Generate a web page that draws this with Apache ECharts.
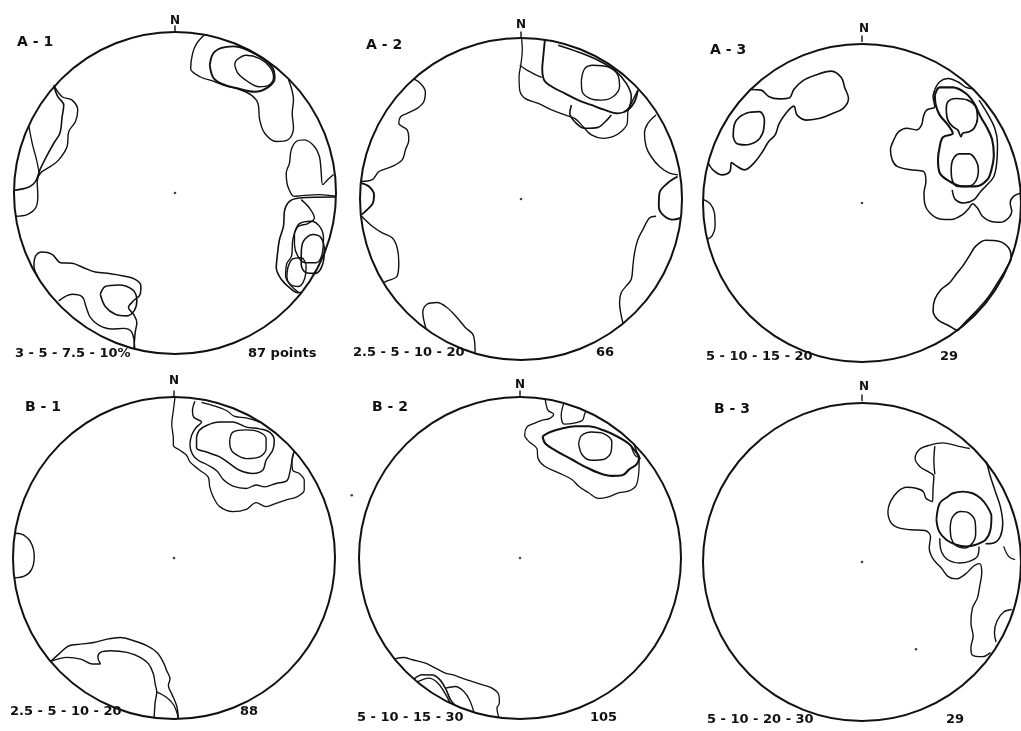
<!DOCTYPE html>
<html><head><meta charset="utf-8">
<script src="https://cdn.jsdelivr.net/npm/echarts@6/dist/echarts.min.js"></script>
<style>html,body{margin:0;padding:0;background:#fff}#c{width:1021px;height:731px}</style>
</head><body><div id="c"></div>
<script>
// Stereonet coordinates: primitive circle radius = 100, x to east, y to north.
const PRIMITIVE_R = 100;

// ---------- A-1 ----------
const A1_NE_c1 = [[18,98],[13.4,92.8],[10.9,86.6],[9.7,77.3],[15.5,72.2],[23.7,69.5],[32,66.4],[40.2,64.3],[47.4,60.8],[51.5,55.7],[52.6,45.4],[55.7,37.1],[62.9,32],[70.1,33],[73.6,40.2],[72.8,49.5],[73.6,57.7],[70.5,70.5]];
const A1_NE_c2 = [[21.6,79.4],[23.7,86.6],[28.9,90.1],[36.1,91.1],[44.3,89.1],[54.6,83.5],[60.8,77.3],[61.9,71.1],[57.7,65.6],[49.5,62.9],[39.2,64.9],[28.9,68],[23.7,71.8],[21.6,79.4]];
const A1_NE_c3 = [[37.1,79.4],[38.1,82.5],[44.3,85.6],[52.6,83.5],[58.8,78.4],[61.2,72.2],[58.4,67],[52.2,66],[45.4,69.1],[39.2,74.2],[37.1,79.4]];
const A1_W_c1 = [[-75.3,67],[-70.1,59.8],[-63.9,57.7],[-60.4,51.5],[-61.9,44.3],[-66,38.1],[-67,28.9],[-72.2,20.6],[-77.3,16.5],[-83.5,12.4],[-85.6,7.2],[-85.2,-2.1],[-86.6,-9.3],[-91.8,-13.4],[-99,-14.4]];
const A1_W_c2 = [[-75.3,66.4],[-72.8,59.8],[-69.1,54.6],[-70.1,47.4],[-71.5,37.1],[-75.3,30.9],[-79.8,22.7],[-83.9,14.4],[-86.6,7.2],[-90.7,3.7],[-100,1.6]];
const A1_W_c3 = [[-90.8,41.8],[-88.7,30.9],[-86,20.6],[-84.3,12.4]];
const A1_E_c1 = [[98.5,11.5],[94.8,8.2],[91.8,5.2],[90.7,14.4],[89.7,22.7],[86.6,28.9],[80.4,33],[75.3,32],[72.2,26.8],[71.1,18.6],[69.1,12.4],[70.1,4.1],[74.2,-2.1],[78.4,-1.6],[89.7,-1],[100,-2]];
const A1_E_c2 = [[100,-2.5],[77.3,-3.1],[71.1,-5.2],[68,-11.3],[67.4,-20.6],[64.9,-28.9],[63.5,-39.2],[62.9,-46.4],[66,-53.6],[71.1,-58.8],[76.3,-61.9],[78.5,-61.8]];
const A1_E_c3 = [[78.4,-4.1],[83.5,-9.3],[86.6,-15.5],[82.5,-19],[76.3,-21],[73.2,-28.9],[72.4,-39.2],[69.5,-43.7],[68.7,-51.5],[72.2,-57.7],[76.5,-61.5]];
const A1_E_c4 = [[74.2,-24.7],[77.3,-19],[84.5,-17.5],[89.7,-20.6],[92.2,-27.8],[91.3,-38.1],[87.6,-43.3],[81,-43.3],[76.3,-39.2],[74.2,-32],[74.2,-24.7]];
const A1_E_c5 = [[70.1,-46.4],[72.8,-41.2],[78.4,-40.2],[81.4,-45.4],[80.4,-53.6],[76.7,-58.1],[71.5,-56.7],[69.5,-51.5],[70.1,-46.4]];
const A1_E_c6 = [[78.4,-38.1],[79.8,-29.9],[85.6,-25.8],[90.7,-27.8],[92.8,-36.1],[91.3,-45.4],[87.2,-49.9],[81.4,-49.5],[78.4,-44.3],[78.4,-38.1]];
const A1_SW_c1 = [[-85.2,-52.5],[-87.6,-45.4],[-86.6,-39.2],[-82.5,-36.7],[-76.3,-38.1],[-71.1,-43.3],[-63.9,-43.7],[-56.7,-46.4],[-49.5,-49.1],[-40.2,-50.1],[-32,-51.5],[-24.7,-53.6],[-21.2,-57.7],[-21.6,-62.9],[-25.8,-67],[-28.9,-71.1],[-25.8,-75.3],[-23.7,-80.4],[-24.7,-86.6],[-25.5,-96.5]];
const A1_SW_c2 = [[-72.2,-67],[-63.9,-62.9],[-57.7,-64.5],[-55.1,-71.1],[-52.6,-77.3],[-47.4,-82.1],[-39.2,-84.5],[-32,-84.1],[-26.8,-86.6],[-25,-96.8]];
const A1_SW_c3 = [[-46.4,-62.9],[-43.3,-58.1],[-35.1,-57.1],[-26.2,-60.2],[-23.7,-67],[-25.4,-73.2],[-29.9,-76.3],[-37.1,-75.3],[-43.3,-70.5],[-46.4,-62.9]];

// ---------- A-2 ----------
const A2_NE_c1 = [[0.4,99.6],[0.8,92.4],[0,84.1],[-1.2,75.9],[-0.8,67.6],[2.5,62.5],[10.7,59.4],[19,55.3],[27.2,52.2],[33.4,50.1],[38.6,44.9],[43.7,39.8],[50.9,37.7],[57.1,38.8],[62.3,41.9],[66,47],[66.4,54.2],[68.5,59.4],[72.6,67.6]];
const A2_NE_c2 = [[14.8,98.5],[13.8,88.2],[13.2,81],[14.4,73.8],[20,69.3],[27.2,65.6],[35.5,61.4],[43.7,58.4],[52,55.3],[60.2,53.2],[66.4,55.3],[70.5,60.4],[72.6,67.6]];
const A2_NE_c3 = [[-0.8,83.1],[4.5,79.6],[12.8,75.5]];
const A2_NE_c4 = [[31.3,58.4],[30.3,53.2],[33.4,48],[39.6,43.9],[47.8,44.5],[53,48.7],[56.1,52.2]];
const A2_NE_c5 = [[23.1,95.5],[35.5,91.3],[47.8,86.2],[58.1,80],[65.4,71.8],[68.5,63.5],[67.4,57.3],[64.3,54.2]];
const A2_NE_c6 = [[37.5,73.8],[39.6,81],[44.7,83.1],[54,82.1],[60.2,76.9],[61.2,69.7],[57.1,63.5],[49.9,61.4],[42.7,62.5],[37.9,67.2],[37.5,73.8]];
const A2_W_c1 = [[-66.6,74.6],[-62.5,71.8],[-59.4,66.6],[-60.4,60.4],[-64.5,56.3],[-70.7,53.2],[-74.8,51.1],[-75.9,47],[-70.7,42.9],[-69.7,36.7],[-71.8,30.5],[-73.8,24.3],[-80,20.2],[-88.2,17.1],[-92.4,12],[-99.4,10.9]];
const A2_W_c2 = [[-99.2,9.9],[-94.4,7.8],[-91.3,2.7],[-92,-2.5],[-95.5,-6.6],[-99,-9.7]];
const A2_W_c3 = [[-99,-10.7],[-92.4,-16.9],[-86.2,-21],[-80,-24.1],[-76.9,-30.3],[-75.9,-39.6],[-76.9,-47.8],[-83.1,-50.9],[-85.5,-52]];
const A2_S_c1 = [[-59,-80.5],[-61,-70.5],[-58.4,-65.4],[-52.2,-64.3],[-46,-67.4],[-39.8,-73.6],[-34.6,-79.8],[-29.5,-84.9],[-28.5,-95.5]];
const A2_E_c1 = [[83.9,52.2],[78.8,47],[76.7,40.8],[77.7,32.6],[80.8,26.4],[86,20.2],[92.2,16.1],[97.5,15]];
const A2_E_c2 = [[97.3,14],[91.1,9.9],[86,3.7],[85.6,-4.5],[88,-9.7],[94.2,-12.8],[99.2,-11.8]];
const A2_E_c3 = [[83.9,-10.7],[79.8,-11.8],[75.7,-19],[72.6,-25.2],[70.5,-33.4],[69.5,-41.6],[68.5,-49.9],[65.4,-54],[62.3,-58.1],[61.2,-64.3],[63.3,-77]];

// ---------- A-3 ----------
const A3_NW_c1 = [[-70.3,70.5],[-63.5,70.1],[-58.4,66],[-52.2,64.7],[-45.6,65.4],[-42.9,70.5],[-37.3,75.9],[-29.5,79.4],[-19.2,81.9],[-13,77.9],[-10.9,71.8],[-8.5,64.9],[-11.8,58.8],[-19.2,55.3],[-26.4,52.6],[-34.6,51.5],[-40.8,54.6],[-42.9,60.2],[-47.6,56.1],[-52.2,49.1],[-54.6,42.3],[-58.8,38.1],[-62.5,32],[-67.6,25.2],[-73.8,20.6],[-80,23.7],[-82.1,25.2],[-83.1,19.6],[-88.2,17.5],[-93.8,20.6],[-96.8,25]];
const A3_NW_c2 = [[-81,41.2],[-80,49.5],[-72.8,55.7],[-64.5,56.7],[-61.4,51.5],[-62.5,43.3],[-66.6,38.1],[-73.8,36.1],[-79,37.1],[-81,41.2]];
const A3_W_c1 = [[-99.6,2.1],[-95.5,-0.4],[-92.8,-6.2],[-92.4,-14.4],[-94.4,-20.6],[-97.5,-22.5]];
const A3_NE_c1a = [[45.8,70.5],[48.9,75.3],[54,77.3],[60.2,75.3],[65.4,71.8],[70,71]];
const A3_NE_c1 = [[45.8,70.5],[44.7,66],[45.8,59.8],[40.6,57.7],[38.6,53.6],[37.5,48.5],[34.4,45.4],[28.2,46.4],[23.1,44.3],[20,39.2],[17.9,33],[19,26.8],[22.1,22.7],[30.3,20.6],[38.6,19.6],[40.2,13.4],[39,6.2],[39.6,-1],[42.7,-6.2],[48.9,-9.9],[56.1,-10.3],[63.3,-7.2],[67.4,-3.1],[69.5,-0.4],[72.6,-3.1],[75.7,-8.2],[80.8,-11.3],[87,-12],[92.2,-9.3],[94.2,-5.2],[93.2,0],[95.3,4.1],[99.8,6]];
const A3_NE_c2 = [[45.8,67],[48.9,71.8],[57.1,71.8],[65.4,68],[70.5,61.9],[74.6,53.6],[78.8,46.4],[81.9,39.2],[82.9,29.9],[81.4,20.6],[78.8,14.4],[71.5,10.3],[63.3,10.3],[55.1,13.4],[48.9,18.6],[47.8,26.8],[48.9,35.1],[50.9,40.8],[57.1,43.3],[54,48.5],[48.9,54.6],[46.4,60.8],[45.8,67]];
const A3_NE_c3 = [[73.6,63.9],[78.8,55.7],[83.5,46.4],[85.2,37.1],[84.9,26.8],[82.9,16.5],[77.7,10.3],[74.6,7.2],[70.5,2.1],[64.3,0],[58.8,2.1],[56.7,8.2]];
const A3_NE_c4 = [[53,57.7],[54,62.9],[59.2,64.9],[66.4,63.9],[71.5,59.8],[72.6,52.6],[70.5,46.4],[67.4,44.3],[63.3,43.3],[62.3,41.2],[60.2,45.4],[57.1,47.4],[54,51.5],[53,57.7]];
const A3_NE_c5 = [[56.1,20.6],[57.1,26.8],[61.2,30.5],[67.4,30.5],[71.5,26.8],[73.2,20.6],[71.5,13.4],[66.4,10.3],[60.2,10.3],[56.7,14.4],[56.1,20.6]];
const A3_SE_c1 = [[60.2,-79.4],[54,-75.9],[47.8,-72.6],[44.7,-67],[45.8,-59.8],[49.9,-53.6],[55.1,-49.5],[59.2,-44.3],[63.3,-39.2],[67.4,-33],[71.5,-26.8],[77.7,-23.1],[86,-23.7],[92.2,-27.8],[93.8,-34],[90.5,-41],[85,-50],[79,-59],[72,-67],[64,-75],[60.2,-79.4]];

// ---------- B-1 ----------
const B1_NE_c1 = [[0.6,99.8],[-0.4,91.6],[-1.4,83.3],[-0.4,74.1],[-0.4,70],[3.7,66.9],[7.8,63.8],[9.9,59.7],[16,54.5],[21.2,50.4],[22.2,44.2],[24.3,38.1],[28.4,31.9],[36.6,28.8],[44.9,30.2],[51,34.4],[57.2,31.9],[63.4,34],[69.5,36],[76.7,38.1],[80.9,42.2],[80.9,48.4],[77.8,52.5],[73.7,54.5],[73.3,60.7],[74.7,66.5]];
const B1_NE_c2 = [[13,97.3],[11.5,91.6],[12.3,87.4],[17.1,84.4],[13.6,80.9],[10.9,76.1],[9.9,70],[11.5,64.4],[15,60.7],[21.2,57.6],[26.7,54.1],[30.9,48.4],[36.6,44.7],[44.9,43.2],[51,45.3],[56.2,44.2],[63.4,46.3],[70,47.9],[72,53.5],[73.3,60.7],[74.7,66.5]];
const B1_NE_c3 = [[17.1,96.7],[24.3,94.7],[32.5,91.6],[37.7,87.9],[44.9,87],[53.1,84.4]];
const B1_NE_c4 = [[14,75.1],[15.6,79.2],[20.2,82.3],[28.4,84.4],[36.6,84.4],[44.9,81.3],[53.1,80.2],[59.3,78.2],[62.3,73],[61.3,66.9],[57.2,60.7],[55.1,54.5],[49,52.5],[40.7,54.5],[34.6,58.6],[28.4,62.8],[20.2,65.8],[14,68.5],[14,75.1]];
const B1_NE_c5 = [[34.6,73],[36.6,78.2],[44.9,79.6],[53.1,78.2],[57.2,74.1],[57.2,67.9],[53.1,62.8],[44.9,61.7],[37.7,64.8],[35,68.5],[34.6,73]];
const B1_W_c1 = [[-98.8,15.4],[-95.1,15],[-89.3,10.3],[-86.8,1],[-88.5,-7.2],[-93,-11.3],[-99.2,-12.3]];
const B1_SW_c1 = [[-76.5,-64.2],[-70.4,-58.6],[-65.2,-54.5],[-58,-53.5],[-49.8,-52.5],[-41.6,-50.4],[-33.3,-49.4],[-25.1,-51.4],[-16.9,-54.5],[-10.7,-58.6],[-6.6,-64.8],[-4.5,-70],[-2.5,-75.1],[-3.5,-79.2],[-1.4,-84.4],[1.6,-91.6],[2.7,-99.5]];
const B1_SW_c2 = [[-76.5,-64.2],[-66.3,-61.7],[-58,-62.8],[-50.8,-65.8],[-45.7,-65.8],[-47.3,-61.7],[-45.7,-58.6],[-39.5,-57.6],[-29.2,-58.6],[-21,-61.7],[-15.8,-65.8],[-12.8,-72],[-11.7,-78.2],[-10.7,-83.3],[-11.7,-89.5],[-12.3,-99]];
const B1_SW_c3 = [[-10.7,-83.3],[-4.9,-86.4],[0,-91.6],[2.7,-99.5]];

// ---------- B-2 ----------
const B2_NE_c1 = [[15.7,98.5],[17.4,91.7],[20.9,89.3],[18.2,86.6],[13.6,85.5],[8.5,83.5],[4.3,81.4],[2.9,76.2],[5.8,72.1],[10.5,68],[11.2,61.8],[15.3,57],[24,52.9],[32.2,48.8],[36.4,44.6],[42.6,40.5],[48.8,37],[55,38],[61.2,40.5],[67.4,41.5],[71.9,44.6],[73.6,51.4],[74,58.7],[73.6,62.8],[70.7,70.7]];
const B2_NE_c2 = [[27.1,96],[25.6,88.6],[27.5,83.1],[34.3,83.9],[38.8,85.5],[40.1,89.3],[40.9,91.2]];
const B2_NE_c3 = [[14,75.6],[15.7,71.1],[21.9,66.9],[32.2,61.2],[40.5,56.6],[48.8,52.9],[57,51],[63.6,51.4],[67.8,55],[72.5,58.3],[74,62.4],[71.1,66.9],[67.4,71.1],[60.1,75.6],[51.9,79.3],[42.6,81.8],[34.3,81.8],[26,80.4],[18.8,78.3],[14,75.6]];
const B2_NE_c4 = [[36.4,71.1],[38.4,76.2],[44.6,78.3],[51.9,77.3],[57,72.1],[56.6,65.9],[51.9,61.2],[44.6,60.7],[38.8,63.8],[36.4,71.1]];
const B2_NE_c5 = [[69,70],[71.5,63.8],[75.2,61.8]];
const B2_SW_c1 = [[-77.8,-62.6],[-72.1,-61.8],[-66.9,-63.2],[-58.7,-65.3],[-52.5,-68.4],[-46.3,-71.5],[-42.1,-72.5],[-36,-74.6],[-29.8,-76.7],[-23.6,-78.7],[-17.4,-80.8],[-13.2,-84.9],[-12.8,-90.1],[-14.3,-93.2],[-13.2,-99]];
const B2_SW_c2 = [[-65.9,-75.2],[-60.7,-72.5],[-54.1,-72.7],[-49.4,-76],[-45.9,-81.8],[-43.2,-88],[-40.5,-91.4]];
const B2_SW_c3 = [[-63.8,-77],[-56.6,-74.6],[-51.4,-77.3],[-47.3,-82.9],[-43.5,-89.8]];
const B2_SW_c4 = [[-46.3,-80.8],[-40.1,-79.8],[-34.9,-82.9],[-31.4,-88],[-28.7,-95.5]];

// ---------- B-3 ----------
const B3_c1 = [[67.8,70.5],[60.2,72],[50.9,74],[42.7,72.6],[36.1,69.9],[33.4,64.3],[36.5,59.2],[41.6,56.1],[45.2,53.4],[44.7,45.8],[44.3,37.5],[40.2,39.6],[38.6,43.7],[34,45.8],[28.2,46.4],[22.5,43.7],[17.9,37.5],[16.3,31.3],[18.4,24.1],[23.7,21],[31.3,20],[39.6,19.6],[43.1,15.9],[42.3,8.7],[44.7,1.9],[49.9,-3.7],[54,-8.9],[59.2,-10.5],[65.4,-7.2],[70.5,-2.3],[74,-1],[75.3,-6.8],[74,-15.1],[72.6,-22.3],[69.5,-28.5],[68.5,-37.7],[69.9,-46],[68.5,-53.2],[69.5,-57.9],[75.7,-58.8],[80.8,-56.3]];
const B3_c2a = [[45.8,72],[45.2,63.3],[45.8,54.5]];
const B3_c2b = [[78.3,62.2],[80.8,53],[83.9,43.7],[87,34.4],[88.5,24.1],[87,15.9],[82.9,11.8],[77.7,11.3]];
const B3_c3 = [[46.8,26.2],[48.9,36.5],[54,40.6],[57.1,42.7],[63.3,43.7],[69.5,42.7],[74.6,39.6],[78.8,34.4],[81.4,28.2],[80.8,20],[77.7,13.8],[71.5,10.7],[65.4,9.7],[59.2,10.7],[53,13.8],[48.5,19],[46.8,26.2]];
const B3_c3b = [[48.9,14.8],[49.9,6.6],[54,1.4],[61.2,-0.6],[67.4,0.4],[72.6,3.5],[73.6,9.7]];
const B3_c4 = [[55.5,22.1],[57.1,28.2],[62.3,31.3],[67.4,30.3],[71.1,25.2],[71.5,17.9],[69.5,11.8],[64.3,8.7],[59.2,10.1],[56.1,14.8],[55.5,22.1]];
const B3_c5 = [[94.2,-29.5],[89.1,-31.1],[84.9,-36.7],[83.3,-43.9],[84.3,-49.7]];
const B3_c6 = [[89.1,9.7],[92.2,3.5],[96.3,1.4]];

// stray specks on the sheet (panel index -> points)
const STRAY_B2 = [[-104.5,39]];
const STRAY_B3 = [[34,-54.2]];

// ---------- texts ----------
const PANEL_NAMES = ['A - 1', 'A - 2', 'A - 3', 'B - 1', 'B - 2', 'B - 3'];
const CONTOUR_LEVELS = ['3 - 5 - 7.5 - 10%', '2.5 - 5 - 10 - 20', '5 - 10 - 15 - 20', '2.5 - 5 - 10 - 20', '5 - 10 - 15 - 30', '5 - 10 - 20 - 30'];
const POINT_COUNTS = ['87 points', '66', '29', '88', '105', '29'];
const NORTH = 'N';

// contours per panel: [points, lineWidth]
const PANEL_CONTOURS = [
  [[A1_NE_c1,1.4],[A1_NE_c2,1.9],[A1_NE_c3,1.4],[A1_W_c1,1.4],[A1_W_c2,1.6],[A1_W_c3,1.3],[A1_E_c1,1.4],[A1_E_c2,1.6],[A1_E_c3,1.4],[A1_E_c4,1.4],[A1_E_c5,1.4],[A1_E_c6,1.6],[A1_SW_c1,1.5],[A1_SW_c2,1.4],[A1_SW_c3,1.6]],
  [[A2_NE_c1,1.3],[A2_NE_c2,1.9],[A2_NE_c3,1.3],[A2_NE_c4,1.6],[A2_NE_c5,1.6],[A2_NE_c6,1.4],[A2_W_c1,1.4],[A2_W_c2,1.9],[A2_W_c3,1.4],[A2_S_c1,1.4],[A2_E_c1,1.4],[A2_E_c2,1.9],[A2_E_c3,1.4]],
  [[A3_NW_c1,1.6],[A3_NW_c2,1.7],[A3_W_c1,1.4],[A3_NE_c1a,1.5],[A3_NE_c1,1.5],[A3_NE_c2,2.1],[A3_NE_c3,1.5],[A3_NE_c4,1.7],[A3_NE_c5,1.6],[A3_SE_c1,1.6]],
  [[B1_NE_c1,1.3],[B1_NE_c2,1.4],[B1_NE_c3,1.3],[B1_NE_c4,1.5],[B1_NE_c5,1.4],[B1_W_c1,1.4],[B1_SW_c1,1.4],[B1_SW_c2,1.4],[B1_SW_c3,1.3]],
  [[B2_NE_c1,1.3],[B2_NE_c2,1.3],[B2_NE_c3,2.1],[B2_NE_c4,1.4],[B2_NE_c5,1.3],[B2_SW_c1,1.3],[B2_SW_c2,1.6],[B2_SW_c3,1.4],[B2_SW_c4,1.3]],
  [[B3_c1,1.4],[B3_c2a,1.4],[B3_c2b,1.5],[B3_c3,1.9],[B3_c3b,1.4],[B3_c4,1.5],[B3_c5,1.4],[B3_c6,1.3]]
];
const PANEL_STRAY = [[], [], [], [], STRAY_B2, STRAY_B3];

// ---------- layout (pixels) ----------
const LAYOUT = [
  {cx:175, cy:193, r:161, nameX:17,  nameY:42,  nY:21,  lvX:15,  lvY:354, cnX:248, cnY:354},
  {cx:521, cy:199, r:161, nameX:366, nameY:45,  nY:25,  lvX:353, lvY:353, cnX:596, cnY:353},
  {cx:864, cy:203, r:161, nameX:710, nameY:50,  nY:29,  lvX:706, lvY:357, cnX:940, cnY:357},
  {cx:174, cy:558, r:161, nameX:25,  nameY:407, nY:381, lvX:10,  lvY:712, cnX:240, cnY:712},
  {cx:520, cy:558, r:161, nameX:372, nameY:407, nY:385, lvX:357, lvY:718, cnX:590, cnY:718},
  {cx:864, cy:562, r:161, nameX:714, nameY:409, nY:387, lvX:707, lvY:720, cnX:946, cnY:720}
];

const FONT = '"DejaVu Sans", "Liberation Sans", sans-serif';
const INK = '#111';

const grids = [], xAxes = [], yAxes = [], series = [], texts = [];
LAYOUT.forEach((L, i) => {
  grids.push({left: L.cx - L.r, top: L.cy - L.r, width: 2 * L.r, height: 2 * L.r, containLabel: false});
  xAxes.push({gridIndex: i, type: 'value', min: -PRIMITIVE_R, max: PRIMITIVE_R, show: false});
  yAxes.push({gridIndex: i, type: 'value', min: -PRIMITIVE_R, max: PRIMITIVE_R, show: false});
  // primitive circle
  series.push({
    type: 'custom', xAxisIndex: i, yAxisIndex: i, silent: true, animation: false, clip: false,
    data: [[0, 0]],
    renderItem: (params, api) => {
      const c = api.coord([api.value(0), api.value(1)]);
      const s = api.size([PRIMITIVE_R, PRIMITIVE_R]);
      return {type: 'circle', shape: {cx: c[0], cy: c[1], r: s[0]},
        style: {fill: 'none', stroke: INK, lineWidth: 2.0}};
    }
  });
  // north tick
  series.push({type: 'line', xAxisIndex: i, yAxisIndex: i, silent: true, animation: false, clip: false,
    symbol: 'none', showSymbol: false, data: [[0, PRIMITIVE_R], [0, PRIMITIVE_R * 1.04]],
    lineStyle: {color: INK, width: 1.4}});
  // centre dot and stray specks
  series.push({type: 'scatter', xAxisIndex: i, yAxisIndex: i, silent: true, animation: false, clip: false,
    data: [[0, 0]].concat(PANEL_STRAY[i]), symbolSize: 2.6, itemStyle: {color: INK}});
  // contours
  PANEL_CONTOURS[i].forEach(([pts, w]) => {
    series.push({type: 'line', xAxisIndex: i, yAxisIndex: i, silent: true, animation: false,
      data: pts, symbol: 'none', showSymbol: false, smooth: 0.35, clip: false,
      lineStyle: {color: INK, width: w}});
  });
  const mk = (txt, x, y, size, align) => ({
    type: 'text', x: x, y: y, silent: true,
    style: {text: txt, fill: INK, font: 'bold ' + size + 'px ' + FONT, fontSize: size, fontWeight: 'bold', fontFamily: FONT,
      textAlign: align, textVerticalAlign: 'middle', align: align, verticalAlign: 'middle'}
  });
  texts.push(mk(PANEL_NAMES[i], L.nameX, L.nameY, 14, 'left'));
  texts.push(mk(NORTH, L.cx, L.nY, 12, 'center'));
  texts.push(mk(CONTOUR_LEVELS[i], L.lvX, L.lvY, 13, 'left'));
  texts.push(mk(POINT_COUNTS[i], L.cnX, L.cnY, 13, 'left'));
});

const chart = echarts.init(document.getElementById('c'), null, {renderer: 'canvas'});
chart.setOption({
  backgroundColor: '#fff',
  animation: false,
  grid: grids, xAxis: xAxes, yAxis: yAxes,
  series: series,
  graphic: {elements: texts}
});
</script>
</body></html>
